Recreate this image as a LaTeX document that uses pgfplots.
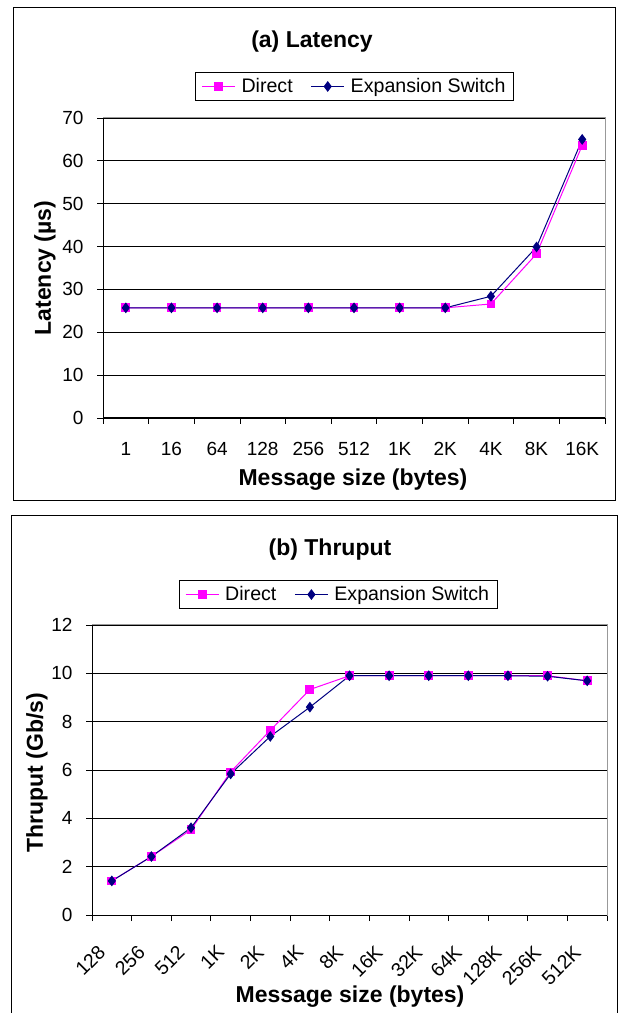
\documentclass[border=0pt]{standalone}
\usepackage{fontspec}
\setmainfont{Liberation Sans}
\usepackage{pgfplots}
\pgfplotsset{compat=1.18}
\definecolor{dmag}{RGB}{255,0,255}
\definecolor{dnavy}{RGB}{0,0,128}
\newcommand{\fs}[1]{\fontsize{#1bp}{#1bp}\selectfont}

\pgfplotsset{
 panel/.style={
  scale only axis, anchor=south west,
  axis line style={draw=gray!80, line width=1bp},
  tick align=outside, tick pos=left,
  major tick length=6bp,
  tick style={black, line width=0.8bp},
  ymajorgrids, major grid style={black, line width=0.8bp},
  /pgf/number format/assume math mode=true,
  ticklabel style={font=\fs{19}},
  yticklabel style={xshift=-10bp},
  label style={font=\bfseries\fs{23}},
  legend columns=2,
  legend cell align=left,
  legend style={draw=black, line width=0.8bp, font=\fs{19.6}, anchor=center,
    inner xsep=6bp, inner ysep=4.5bp,
    nodes={inner sep=2bp},
    /tikz/every odd column/.append style={column sep=4bp},
    /tikz/every even column/.append style={column sep=16bp}},
  legend image code/.code={\draw[mark repeat=2,mark phase=2,##1] plot coordinates {(0bp,0bp) (16.5bp,0bp) (33bp,0bp)};},
 },
 dline/.style={color=dmag, line width=1bp, mark=square*, mark size=3.9bp, mark options={solid, fill=dmag, draw=dmag}},
 eline/.style={color=dnavy, line width=1bp, mark=diamond*, mark size=4.6bp, mark options={solid, fill=dnavy, draw=dnavy}},
}

\begin{document}
\begin{tikzpicture}[x=1bp,y=1bp]
\useasboundingbox (0,0) rectangle (618,1013);
\draw[line width=1bp] (13,1005) rectangle (615,512);
\draw[line width=1bp] (11.5,-3) -- (11.5,497) -- (617,497) -- (617,-3);

\node[font=\bfseries\fs{23}] at (312,971) {(a) Latency};
\node[font=\bfseries\fs{23}] at (330,463) {(b) Thruput};

% ---------------- (a) Latency ----------------
\begin{axis}[panel,
  at={(103bp,595bp)}, width=502bp, height=300bp,
  xmin=0.5, xmax=11.5, ymin=0, ymax=70,
  ytick={0,10,...,70},
  xtick={0.5,1.5,...,11.5},
  xticklabels={1,16,64,128,256,512,1K,2K,4K,8K,16K,{}},
  xticklabel style={xshift=22.8bp, yshift=-15bp},
  xlabel={Message size (bytes)},
  ylabel={Latency (\textmu s)},
  xlabel style={at={(axis description cs:0.498,-0.207)}, anchor=center},
  ylabel style={at={(axis description cs:-0.1155,0.5)}, anchor=center},
  legend style={at={(axis description cs:0.501,1.105)}},
]
\addplot[dline] coordinates {(1,25.7) (2,25.7) (3,25.7) (4,25.7) (5,25.7) (6,25.7) (7,25.7) (8,25.7) (9,26.6) (10,38.3) (11,63.6)};
\addplot[eline] coordinates {(1,25.7) (2,25.7) (3,25.7) (4,25.7) (5,25.7) (6,25.7) (7,25.7) (8,25.7) (9,28.4) (10,39.9) (11,65.0)};
\legend{Direct,Expansion Switch}
\draw[black, line width=1bp] (rel axis cs:0,1) -- (rel axis cs:0,0) -- (rel axis cs:1,0);
\end{axis}

% ---------------- (b) Thruput ----------------
\begin{axis}[panel,
  at={(92bp,98bp)}, width=515bp, height=290bp,
  xmin=0.5, xmax=13.5, ymin=0, ymax=12,
  ytick={0,2,...,12},
  xtick={0.5,1.5,...,13.5},
  xticklabels={128,256,512,1K,2K,4K,8K,16K,32K,64K,128K,256K,512K,{}},
  xticklabel style={font=\fs{19.5}, xshift=5bp, yshift=-23bp, rotate=45, anchor=north east, inner sep=0pt},
  xlabel={Message size (bytes)},
  ylabel={Thruput (Gb/s)},
  xlabel style={at={(axis description cs:0.501,-0.283)}, anchor=center},
  ylabel style={at={(axis description cs:-0.107,0.49)}, anchor=center},
  legend style={at={(axis description cs:0.478,1.105)}},
]
\addplot[dline] coordinates {(1,1.41) (2,2.42) (3,3.53) (4,5.92) (5,7.64) (6,9.33) (7,9.9) (8,9.9) (9,9.9) (10,9.9) (11,9.9) (12,9.9) (13,9.69)};
\addplot[eline] coordinates {(1,1.41) (2,2.42) (3,3.61) (4,5.84) (5,7.39) (6,8.6) (7,9.9) (8,9.9) (9,9.9) (10,9.9) (11,9.9) (12,9.88) (13,9.69)};
\legend{Direct,Expansion Switch}
\draw[black, line width=1bp] (rel axis cs:0,1) -- (rel axis cs:0,0) -- (rel axis cs:1,0);
\end{axis}
\end{tikzpicture}
\end{document}
